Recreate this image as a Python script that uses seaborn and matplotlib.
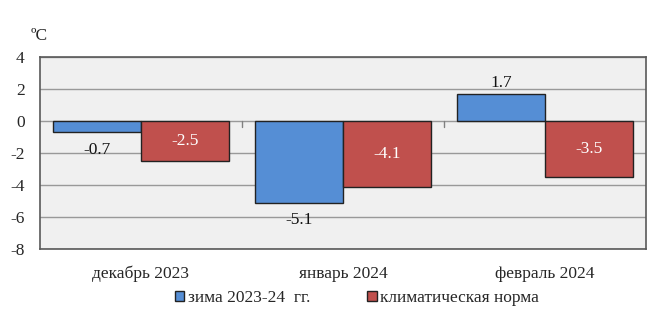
import matplotlib
matplotlib.use("Agg")
import matplotlib.pyplot as plt
import seaborn as sns
import pandas as pd
from matplotlib.patches import Patch

months = ["декабрь 2023", "январь 2024", "февраль 2024"]
winter = [-0.7, -5.1, 1.7]
norm = [-2.5, -4.1, -3.5]
series_names = ["зима 2023-24  гг.", "климатическая норма"]
colors = ["#558ed5", "#c0504d"]
yticks = [-8, -6, -4, -2, 0, 2, 4]

df = pd.DataFrame({
    "month": months * 2,
    "value": winter + norm,
    "series": [series_names[0]] * 3 + [series_names[1]] * 3,
})

sns.set_theme(style="white")
plt.rcParams["font.family"] = ["Liberation Serif", "DejaVu Serif"]
FS = 12.5

fig = plt.figure(figsize=(6.49, 3.22), dpi=100)
ax = fig.add_axes([40 / 649, 1 - 249 / 322, 606 / 649, 192 / 322])
ax.set_facecolor("#f0f0f0")

sns.barplot(data=df, x="month", y="value", hue="series", palette=colors,
            saturation=1, width=0.87, edgecolor="#222222", linewidth=1.0, ax=ax,
            legend=False, zorder=3)

ax.set_ylim(-8, 4)
ax.set_yticks(yticks)
ax.set_yticklabels([str(t) for t in yticks], fontsize=FS)
ax.grid(axis="y", color="#999999", linewidth=1.0, zorder=0)
ax.set_axisbelow(True)
ax.set_xlim(-0.5, 2.5)
ax.set_xlabel("")
ax.set_ylabel("")
ax.tick_params(axis="x", length=0, labelsize=FS, pad=12)
ax.tick_params(axis="y", length=6, width=1, color="#808080", direction="out", pad=5)
for s in ax.spines.values():
    s.set_color("#595959")
    s.set_linewidth(1.2)

# small category separator ticks on the zero line
for k in range(1, len(months)):
    ax.plot([k - 0.5, k - 0.5], [0, -0.35], color="#808080", lw=1, zorder=2)

for cont, vals, kind in zip(ax.containers, [winter, norm], ["out", "in"]):
    for bar, v in zip(cont, vals):
        cx = bar.get_x() + bar.get_width() / 2
        txt = f"{v:.1f}"
        if kind == "in":
            ax.text(cx, v / 2, txt, ha="center", va="center", color="white", fontsize=FS)
        else:
            if v < 0:
                ax.annotate(txt, (cx, v), xytext=(0, -7), textcoords="offset points",
                            ha="center", va="top", fontsize=FS, color="#111111")
            else:
                ax.annotate(txt, (cx, v), xytext=(0, 2), textcoords="offset points",
                            ha="center", va="bottom", fontsize=FS, color="#111111")

fig.text(31 / 649, 1 - 36 / 322, "ºC", fontsize=FS, ha="left", va="center")

handles = [Patch(facecolor=c, edgecolor="#222222", linewidth=1.0) for c in colors]
fig.legend(handles, series_names, loc="center", bbox_to_anchor=(357 / 649, 1 - 298 / 322),
           ncol=2, frameon=False, fontsize=FS, handlelength=0.55, handleheight=0.55,
           handletextpad=0.2, columnspacing=3.3)

fig.savefig("out.png", dpi=100)
